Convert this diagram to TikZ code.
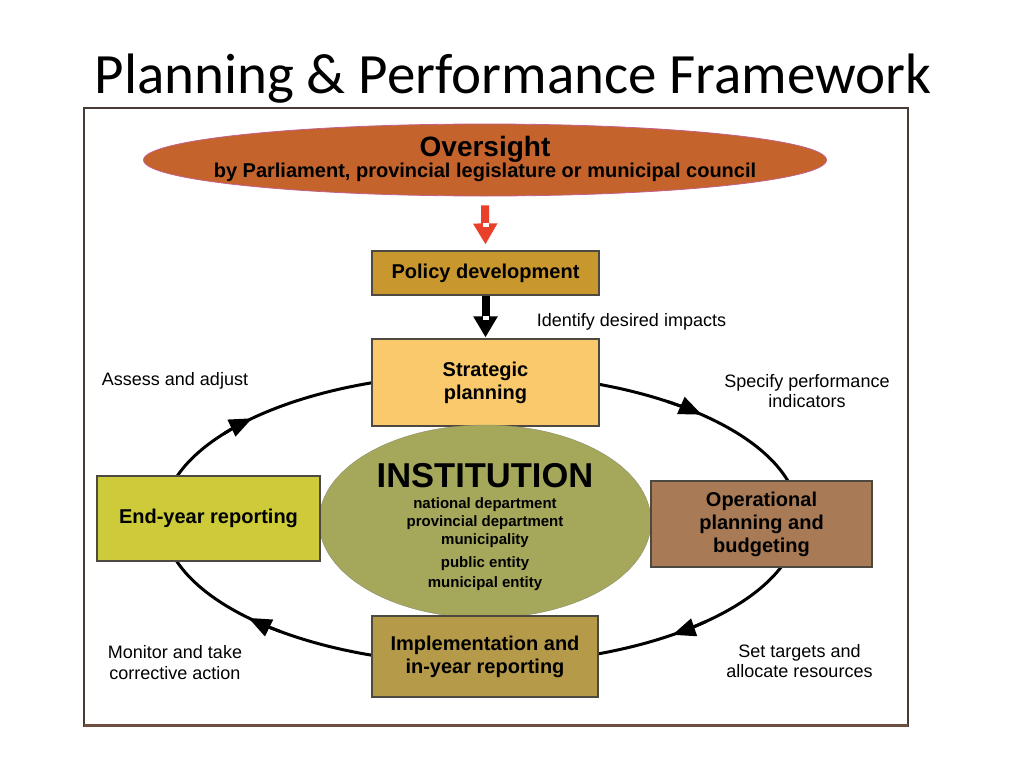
\documentclass[tikz,border=0pt]{standalone}
\usepackage{fontspec}
\setmainfont{Liberation Sans}
\newfontfamily\titlefont{Carlito}
\usetikzlibrary{arrows.meta,shapes.geometric}

\definecolor{oversightfill}{RGB}{197,99,44}
\definecolor{oversightedge}{RGB}{196,96,140}
\definecolor{arrowred}{RGB}{232,64,42}
\definecolor{policyfill}{RGB}{200,151,46}
\definecolor{stratfill}{RGB}{249,201,107}
\definecolor{instfill}{RGB}{165,168,91}
\definecolor{instedge}{RGB}{140,140,112}
\definecolor{endfill}{RGB}{205,203,58}
\definecolor{operfill}{RGB}{168,122,85}
\definecolor{implfill}{RGB}{181,154,74}
\definecolor{boxline}{RGB}{77,72,64}
\definecolor{framecol}{RGB}{72,58,52}
\definecolor{framebottom}{RGB}{110,78,62}

\tikzset{
  stage/.style={draw=boxline, line width=1.2pt, minimum width=227pt, minimum height=87pt,
    inner sep=0pt, align=center, font=\bfseries\fontsize{20}{23}\selectfont},
  note/.style={align=center, font=\fontsize{18}{20.5}\selectfont},
  ring/.style={line width=3pt},
  ringtip/.style={line width=3pt, -{Triangle[length=23pt,width=18pt]}},
  flow/.style={line width=8pt, -{Triangle[length=21pt,width=23pt]}},
  notch/.style={fill=white, minimum width=6pt, minimum height=4pt, inner sep=0pt}
}

\begin{document}
\begin{tikzpicture}[x=1pt, y=-1pt]
\useasboundingbox (0,0) rectangle (1024,768);

% title and frame
\node[font=\titlefont\fontsize{57}{60}\selectfont, anchor=base] (title) at (513,93) {Planning \& Performance Framework};
\draw[framecol, line width=1.5pt] (84,108) rectangle (908,726);
\draw[framebottom, line width=3pt] (84,725) -- (908,725);

% cycle ring
\coordinate (ring) at (481,519);
\draw[ring] (ring) ellipse [x radius=318, y radius=145];

% oversight
\node[ellipse, draw=oversightedge, line width=0.8pt, fill=oversightfill, minimum width=683pt, minimum height=72pt, inner sep=0pt] (over) at (485,160) {};
\node[align=center, font=\bfseries\fontsize{20}{19}\selectfont] (overtext) at ([yshift=1pt]over.center)
  {{\fontsize{28}{19}\selectfont Oversight}\\by Parliament, provincial legislature or municipal council};

\node[stage, fill=policyfill, minimum height=44pt] (pol) at (485.5,273) {Policy development};
\node[stage, fill=stratfill] (strat) at (485.5,382.5) {Strategic\\planning};

% institution
\node[ellipse, draw=instedge, fill=instfill, minimum width=332pt, minimum height=193pt, inner sep=0pt] (inst) at (485,521.5) {};
\node[align=center, font=\bfseries\fontsize{15}{18}\selectfont] (insttext) at ([yshift=-6pt]inst.center)
  {{\fontsize{34.5}{18}\selectfont INSTITUTION}\\[3pt]national department\\provincial department\\municipality\\[5pt]public entity\\[2pt]municipal entity};

\node[stage, fill=endfill, minimum width=223pt, minimum height=85pt] (endy) at (208.5,518.5) {End-year reporting};
\node[stage, fill=operfill, minimum width=221pt, minimum height=86pt] (oper) at (761.5,524) {Operational\\planning and\\budgeting};
\node[stage, fill=implfill, minimum width=226pt, minimum height=81pt] (impl) at (485,656.5) {Implementation and\\in-year reporting};

% down arrows
\draw[flow, arrowred] ([yshift=-9pt]over.south) -- ([yshift=6pt]pol.north);
\node[notch] (rednotch) at ([yshift=25pt]pol.north) {};
\draw[flow] (pol.south) -- ([yshift=1pt]strat.north);
\node[notch] (blacknotch) at ([yshift=20pt]strat.north) {};

% ring arrow heads
\draw[ringtip] (ring) ++(306:318 and 145) arc [start angle=306, end angle=314, x radius=318, y radius=145];
\draw[ringtip] (ring) ++(45:318 and 145) arc [start angle=45, end angle=53, x radius=318, y radius=145];
\draw[ringtip] (ring) ++(129:318 and 145) arc [start angle=129, end angle=137, x radius=318, y radius=145];
\draw[ringtip] (ring) ++(216:318 and 145) arc [start angle=216, end angle=224, x radius=318, y radius=145];

% step labels
\node[note] (impacts) at (631.5,322) {Identify desired impacts};
\node[note] (assess) at (175,381) {Assess and adjust};
\node[note] (specify) at (807,391) {Specify performance\\indicators};
\node[note] (monitor) at (175,662.5) {Monitor and take\\corrective action};
\node[note] (targets) at (799.5,661) {Set targets and\\allocate resources};
\end{tikzpicture}
\end{document}
